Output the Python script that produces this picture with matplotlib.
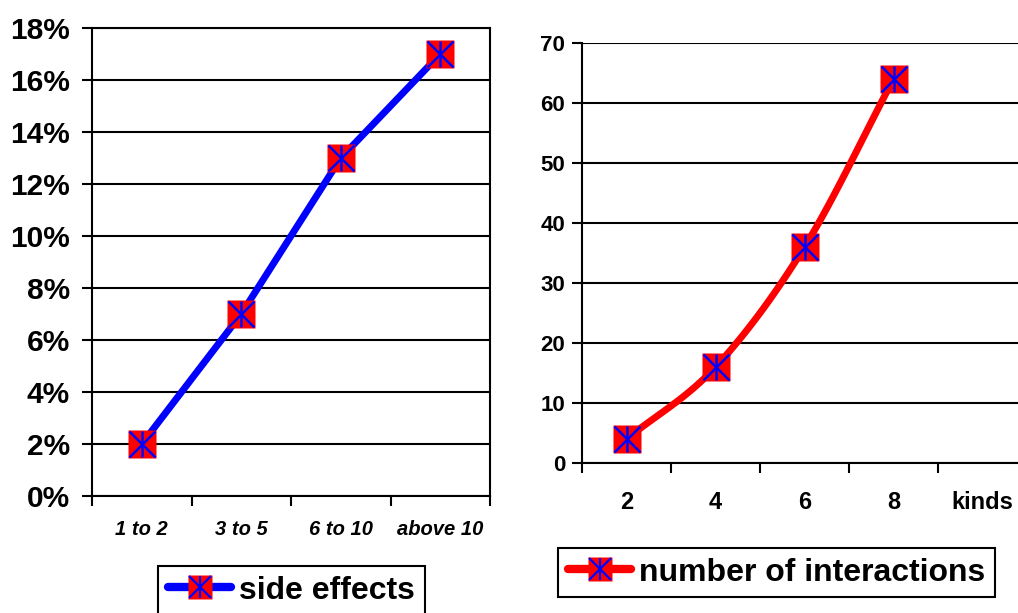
import numpy as np
import matplotlib
matplotlib.use("Agg")
import matplotlib.pyplot as plt
from matplotlib.lines import Line2D
from matplotlib.legend_handler import HandlerTuple

plt.rcParams['font.family'] = ['Liberation Sans', 'DejaVu Sans']
plt.rcParams['font.weight'] = 'bold'

# ---- data ----
left_categories = ["1 to 2", "3 to 5", "6 to 10", "above 10"]
left_values = [2, 7, 13, 17]          # percent
left_yticks = [0, 2, 4, 6, 8, 10, 12, 14, 16, 18]
left_label = "side effects"

right_categories = ["2", "4", "6", "8", "kinds"]
right_values = [4, 16, 36, 64]
right_yticks = [0, 10, 20, 30, 40, 50, 60, 70]
right_label = "number of interactions"

BLUE = (0, 0, 1)
RED = (1, 0, 0)
LW_GRID = 1.5

fig = plt.figure(figsize=(10.18, 6.13), dpi=100)

def smooth(xs, ys, n=30):
    # Catmull-Rom spline through the data points (drawing only)
    xs = np.asarray(xs, float); ys = np.asarray(ys, float)
    P = np.column_stack([xs, ys])
    P = np.vstack([2 * P[0] - P[1], P, 2 * P[-1] - P[-2]])
    out = []
    for i in range(1, len(P) - 2):
        p0, p1, p2, p3 = P[i - 1], P[i], P[i + 1], P[i + 2]
        t = np.linspace(0, 1, n)[:, None]
        seg = 0.5 * ((2 * p1) + (-p0 + p2) * t + (2 * p0 - 5 * p1 + 4 * p2 - p3) * t ** 2
                     + (-p0 + 3 * p1 - 3 * p2 + p3) * t ** 3)
        out.append(seg if i == 1 else seg[1:])
    out = np.vstack(out)
    return out[:, 0], out[:, 1]

def draw_markers(ax, xs, ys):
    ax.plot(xs, ys, ls='none', marker='s', ms=19.5, mfc=RED, mec='none', zorder=5, clip_on=False)
    ax.plot(xs, ys, ls='none', marker='x', ms=19, mec=BLUE, mew=1.8, zorder=6, clip_on=False)
    ax.plot(xs, ys, ls='none', marker='|', ms=19, mec=BLUE, mew=1.8, zorder=6, clip_on=False)

def style_axis(ax):
    ax.tick_params(axis='both', which='major', direction='out', length=7, width=LW_GRID, color='black')
    ax.tick_params(axis='x', which='major', labelbottom=False)
    ax.tick_params(axis='x', which='minor', length=0)
    ax.grid(axis='y', color='black', lw=LW_GRID)
    ax.set_axisbelow(True)
    for s in ax.spines.values():
        s.set_linewidth(LW_GRID)
        s.set_color('black')

# ---- left chart ----
axL = fig.add_axes([92 / 1018, 1 - 496 / 613, (490 - 92) / 1018, (496 - 28) / 613])
xL = np.arange(len(left_categories)) + 0.5
axL.plot(xL, left_values, color=BLUE, lw=5, solid_capstyle='butt', zorder=4)
draw_markers(axL, xL, left_values)
axL.set_xlim(0, len(left_categories))
axL.set_ylim(0, 18)
axL.set_xticks(np.arange(len(left_categories) + 1))
axL.set_xticks(xL, minor=True)
axL.set_xticklabels(left_categories, minor=True, fontsize=14.5, fontstyle='italic', fontweight='bold')
axL.set_yticks(left_yticks)
axL.set_yticklabels([f"{v}%" for v in left_yticks], fontsize=21.5, fontweight='bold')
style_axis(axL)
axL.tick_params(axis='x', which='minor', pad=17)
axL.tick_params(axis='y', pad=9)

# ---- right chart ----
axR = fig.add_axes([582 / 1018, 1 - 463 / 613, (1027 - 582) / 1018, (463 - 43) / 613])
xR = np.arange(len(right_values)) + 0.5
sx, sy = smooth(xR, right_values)
axR.plot(sx, sy, color=RED, lw=5, solid_capstyle='butt', zorder=4)
draw_markers(axR, xR, right_values)
axR.set_xlim(0, len(right_categories))
axR.set_ylim(0, 70)
axR.set_xticks(np.arange(len(right_categories) + 1))
axR.set_xticks(np.arange(len(right_categories)) + 0.5, minor=True)
axR.set_xticklabels(right_categories, minor=True, fontsize=17, fontweight='bold')
axR.set_yticks(right_yticks)
axR.set_yticklabels([str(v) for v in right_yticks], fontsize=16, fontweight='bold')
style_axis(axR)
axR.spines['top'].set_visible(False)
axR.tick_params(axis='x', which='minor', pad=20)
axR.tick_params(axis='y', pad=5)

# ---- legends ----
def legend_handle(color):
    return (Line2D([], [], color=color, lw=6, solid_capstyle='round'),
            Line2D([], [], ls='none', marker='s', ms=17, mfc=RED, mec='none'),
            Line2D([], [], ls='none', marker='x', ms=16, mec=BLUE, mew=1.6),
            Line2D([], [], ls='none', marker='|', ms=16, mec=BLUE, mew=1.6))

for handle, label, (x0, y0) in [(legend_handle(BLUE), left_label, (158 / 1018, 1 - 566 / 613)),
                                (legend_handle(RED), right_label, (558 / 1018, 1 - 548 / 613))]:
    leg = fig.legend([handle], [label], handler_map={tuple: HandlerTuple(ndivide=1)},
                     loc='upper left', bbox_to_anchor=(x0, y0), bbox_transform=fig.transFigure,
                     prop={'family': 'Liberation Sans', 'weight': 'bold', 'size': 23},
                     frameon=True, fancybox=False, edgecolor='black', framealpha=1,
                     handlelength=2.0, handletextpad=0.25, borderpad=0.3, borderaxespad=0)
    leg.get_frame().set_linewidth(1.5)

fig.savefig("out.png", dpi=100)
